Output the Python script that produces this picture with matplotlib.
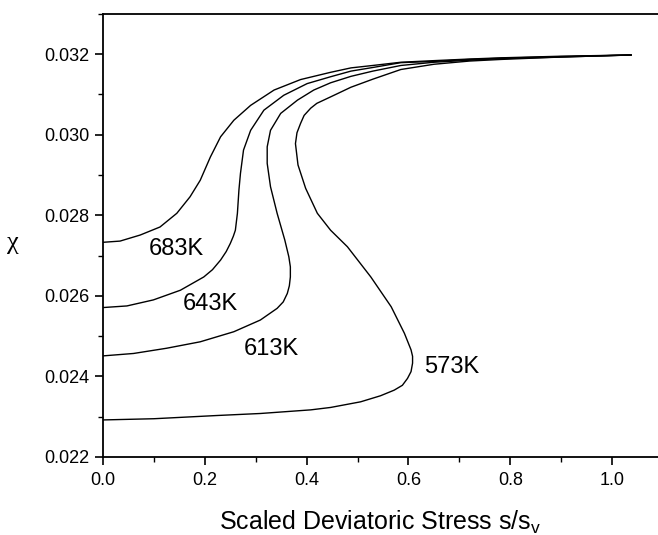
import matplotlib
matplotlib.use("Agg")
import matplotlib.pyplot as plt
from matplotlib.ticker import MultipleLocator

plt.rcParams['font.family'] = ['Liberation Sans', 'DejaVu Sans']

# curves: (stress, chi) pairs along each line
x_683 = [0.0, 0.0335, 0.073, 0.112, 0.145, 0.171, 0.191, 0.211, 0.231, 0.257, 0.29, 0.336, 0.388,
         0.447, 0.487, 0.53, 0.585, 0.65, 0.72, 0.782, 0.9, 1.037]
y_683 = [0.02733, 0.02736, 0.02751, 0.02771, 0.02805, 0.02846, 0.02887, 0.02945, 0.02995, 0.03036,
         0.03073, 0.03111, 0.03137, 0.03155, 0.03166, 0.03172, 0.0318, 0.03184, 0.03188, 0.03191,
         0.03195, 0.03198]

x_643 = [0.0, 0.047, 0.099, 0.152, 0.198, 0.215, 0.231, 0.242, 0.25, 0.256, 0.26, 0.264, 0.267,
         0.27, 0.276, 0.29, 0.316, 0.355, 0.401, 0.447, 0.487, 0.53, 0.585, 0.65, 0.72, 0.782,
         0.9, 1.037]
y_643 = [0.02571, 0.02575, 0.0259, 0.02614, 0.02647, 0.02665, 0.02689, 0.0271, 0.0273, 0.02748,
         0.02763, 0.02805, 0.02863, 0.02904, 0.02962, 0.03011, 0.03061, 0.03098, 0.03127, 0.03144,
         0.03158, 0.03167, 0.03179, 0.03182, 0.03187, 0.0319, 0.03194, 0.03198]

x_613 = [0.0, 0.06, 0.125, 0.191, 0.257, 0.309, 0.342, 0.354, 0.362, 0.366, 0.368, 0.368, 0.365,
         0.357, 0.342, 0.329, 0.3225, 0.3225, 0.329, 0.349, 0.382, 0.414, 0.447, 0.487, 0.53,
         0.585, 0.65, 0.72, 0.782, 0.9, 1.037]
y_613 = [0.02451, 0.02457, 0.0247, 0.02486, 0.02511, 0.0254, 0.02569, 0.02585, 0.02606, 0.02625,
         0.02647, 0.02672, 0.02697, 0.02739, 0.02805, 0.02871, 0.02929, 0.0297, 0.03011, 0.03053,
         0.03086, 0.03111, 0.03129, 0.03145, 0.03158, 0.03172, 0.0318, 0.03185, 0.03189, 0.03193,
         0.03198]

x_573 = [0.0, 0.1, 0.224, 0.309, 0.408, 0.447, 0.506, 0.545, 0.572, 0.588, 0.598, 0.605, 0.608,
         0.608, 0.605, 0.592, 0.566, 0.526, 0.48, 0.447, 0.421, 0.398, 0.383, 0.378, 0.381, 0.388,
         0.395, 0.408, 0.42, 0.447, 0.487, 0.53, 0.585, 0.65, 0.72, 0.782, 0.9, 1.037]
y_573 = [0.02292, 0.02295, 0.02303, 0.02308, 0.02317, 0.02323, 0.02337, 0.02352, 0.02366, 0.02378,
         0.02395, 0.02412, 0.02433, 0.0245, 0.02466, 0.02507, 0.02573, 0.02647, 0.02722, 0.02763,
         0.02805, 0.02867, 0.02925, 0.02978, 0.03005, 0.03028, 0.03048, 0.03066, 0.03078, 0.03094,
         0.03118, 0.03138, 0.03162, 0.03175, 0.03183, 0.03187, 0.03193, 0.03198]

labels = ['683K', '643K', '613K', '573K']
label_x = [0.144, 0.21, 0.33, 0.685]
label_y = [0.02716, 0.02581, 0.02469, 0.02424]

fig = plt.figure(figsize=(6.58, 5.35), dpi=100)
ax = fig.add_axes([0.1565, 0.1458, 0.8435, 0.8282])

for xs, ys in [(x_683, y_683), (x_643, y_643), (x_613, y_613), (x_573, y_573)]:
    ax.plot(xs, ys, color='black', lw=1.0, solid_joinstyle='round')

for t, lx, ly in zip(labels, label_x, label_y):
    ax.text(lx, ly, t, fontsize=17, ha='center', va='center')

ax.set_xlim(0, 1.09)
ax.set_ylim(0.022, 0.0330)
ax.xaxis.set_major_locator(MultipleLocator(0.2))
ax.xaxis.set_minor_locator(MultipleLocator(0.1))
ax.yaxis.set_major_locator(MultipleLocator(0.002))
ax.yaxis.set_minor_locator(MultipleLocator(0.001))
ax.xaxis.set_major_formatter(plt.FuncFormatter(lambda v, p: f"{v:.1f}"))
ax.yaxis.set_major_formatter(plt.FuncFormatter(lambda v, p: f"{v:.3f}"))

ax.spines['right'].set_visible(False)
for s in ['left', 'bottom', 'top']:
    ax.spines[s].set_linewidth(1.3)
ax.tick_params(which='major', direction='out', length=6, width=1.2, labelsize=13)
ax.tick_params(axis='x', which='major', pad=5)
ax.tick_params(axis='y', which='major', pad=4)
ax.tick_params(which='minor', direction='out', length=3.5, width=1.0)

ax.set_xlabel('Scaled Deviatoric Stress s/s$_\\mathregular{v}$', fontsize=18, labelpad=14)
ax.set_ylabel('χ', fontsize=19, rotation=0, va='center', family=['Liberation Serif', 'DejaVu Serif'])
ax.yaxis.set_label_coords(-0.162, 0.483)

fig.savefig('out.png', dpi=100)
